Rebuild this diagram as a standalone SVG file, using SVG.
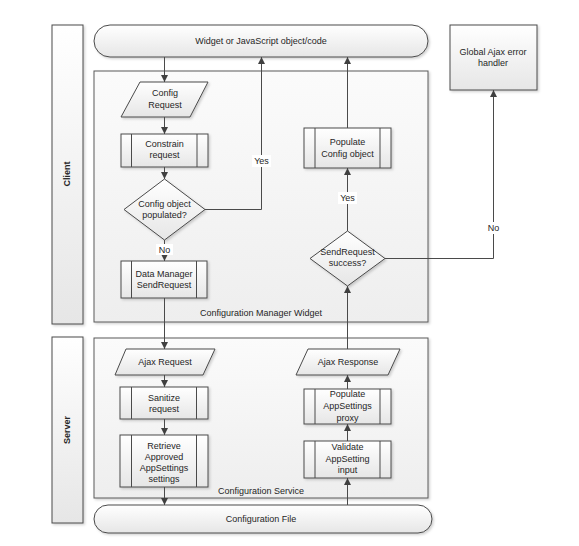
<svg xmlns="http://www.w3.org/2000/svg" width="579" height="546" viewBox="0 0 579 546">
<defs>
<linearGradient id="gs" x1="0" y1="0" x2="0" y2="1"><stop offset="0" stop-color="#ffffff"/><stop offset="1" stop-color="#e6e6e6"/></linearGradient>
<linearGradient id="gc" x1="0" y1="0" x2="0" y2="1"><stop offset="0" stop-color="#fbfbfb"/><stop offset="1" stop-color="#eeeeee"/></linearGradient>
<filter id="sh" x="-10%" y="-10%" width="130%" height="130%"><feDropShadow dx="1.5" dy="1.5" stdDeviation="0.8" flood-color="#000" flood-opacity="0.18"/></filter>
<marker id="ah" viewBox="0 0 10 10" refX="10" refY="5" markerWidth="7" markerHeight="7" markerUnits="userSpaceOnUse" orient="auto"><path d="M0,0 L10,5 L0,10 z" fill="#404040"/></marker>
</defs>
<style>
.s{fill:url(#gs);stroke:#4a4a4a;stroke-width:1;filter:url(#sh)}
.c{fill:url(#gc);stroke:#5a5a5a;stroke-width:1;filter:url(#sh)}
.in{stroke:#4a4a4a;stroke-width:1;fill:none}
.t{font-family:"Liberation Sans",Arial,sans-serif;font-size:9px;fill:#262626;text-anchor:middle}
.b{font-weight:bold}
.l{fill:none;stroke:#4a4a4a;stroke-width:1}
.a{marker-end:url(#ah)}
.lb{fill:#ffffff;stroke:none}
</style>
<rect width="579" height="546" fill="#ffffff"/>
<g id="lane-client"><rect class="s" x="52" y="25" width="31" height="299"/><text class="t b" transform="translate(70,174) rotate(-90)">Client</text></g>
<g id="lane-server"><rect class="s" x="52" y="337" width="31" height="186"/><text class="t b" transform="translate(70,430) rotate(-90)">Server</text></g>
<g id="container-client"><rect class="c" x="94" y="71" width="334" height="251"/><text class="t" x="261" y="316">Configuration Manager Widget</text></g>
<g id="container-server"><rect class="c" x="94" y="338" width="334" height="160"/><text class="t" x="261" y="494">Configuration Service</text></g>
<g id="widget"><rect class="s" x="94" y="25" width="334" height="32" rx="16" ry="16"/><text class="t" x="261" y="44">Widget or JavaScript object/code</text></g>
<g id="global-error"><rect class="s" x="450" y="25" width="87" height="65"/><text class="t" x="493" y="55">Global Ajax error</text><text class="t" x="493" y="66">handler</text></g>
<g id="config-request"><polygon class="s" points="140,82 208,82 190,117 121,117"/><text class="t" x="165" y="96">Config</text><text class="t" x="165" y="108">Request</text></g>
<g id="constrain"><rect class="s" x="121" y="134" width="87" height="33"/><line class="in" x1="131.5" y1="134" x2="131.5" y2="167"/><line class="in" x1="197" y1="134" x2="197" y2="167"/><text class="t" x="164.5" y="147">Constrain</text><text class="t" x="164.5" y="158">request</text></g>
<g id="config-populated"><polygon class="s" points="164.5,179 205,209.5 164.5,240 124,209.5"/><text class="t" x="164.5" y="207">Config object</text><text class="t" x="164.5" y="218">populated?</text></g>
<g id="data-manager"><rect class="s" x="121" y="261" width="86" height="37"/><line class="in" x1="131.5" y1="261" x2="131.5" y2="298"/><line class="in" x1="196.5" y1="261" x2="196.5" y2="298"/><text class="t" x="164" y="277">Data Manager</text><text class="t" x="164" y="288">SendRequest</text></g>
<g id="populate-config"><rect class="s" x="304" y="128" width="87" height="40"/><line class="in" x1="315" y1="128" x2="315" y2="168"/><line class="in" x1="380" y1="128" x2="380" y2="168"/><text class="t" x="347.5" y="145">Populate</text><text class="t" x="347.5" y="157">Config object</text></g>
<g id="sendrequest-success"><polygon class="s" points="347.5,231 385,258.5 347.5,286 310,258.5"/><text class="t" x="347.5" y="255">SendRequest</text><text class="t" x="347.5" y="266">success?</text></g>
<g id="ajax-request"><polygon class="s" points="126,349 215,349 203,375 115,375"/><text class="t" x="165" y="365">Ajax Request</text></g>
<g id="sanitize"><rect class="s" x="120" y="387" width="88" height="32"/><line class="in" x1="131.5" y1="387" x2="131.5" y2="419"/><line class="in" x1="196.5" y1="387" x2="196.5" y2="419"/><text class="t" x="164" y="401">Sanitize</text><text class="t" x="164" y="412">request</text></g>
<g id="retrieve"><rect class="s" x="120" y="435" width="88" height="52"/><line class="in" x1="131.5" y1="435" x2="131.5" y2="487"/><line class="in" x1="196.5" y1="435" x2="196.5" y2="487"/><text class="t" x="164" y="449">Retrieve</text><text class="t" x="164" y="460">Approved</text><text class="t" x="164" y="471">AppSettings</text><text class="t" x="164" y="482">settings</text></g>
<g id="ajax-response"><polygon class="s" points="308,349 400,349 388,375 296,375"/><text class="t" x="348" y="365">Ajax Response</text></g>
<g id="populate-appsettings"><rect class="s" x="304" y="389" width="87" height="35"/><line class="in" x1="315" y1="389" x2="315" y2="424"/><line class="in" x1="380" y1="389" x2="380" y2="424"/><text class="t" x="347.5" y="397">Populate</text><text class="t" x="347.5" y="409">AppSettings</text><text class="t" x="347.5" y="421">proxy</text></g>
<g id="validate"><rect class="s" x="304" y="441" width="87" height="37"/><line class="in" x1="315" y1="441" x2="315" y2="478"/><line class="in" x1="380" y1="441" x2="380" y2="478"/><text class="t" x="347.5" y="450">Validate</text><text class="t" x="347.5" y="462">AppSetting</text><text class="t" x="347.5" y="473">input</text></g>
<g id="config-file"><rect class="s" x="94" y="505" width="338" height="28" rx="14" ry="14"/><text class="t" x="261" y="522">Configuration File</text></g>
<g id="connectors">
<line class="l a" x1="164.5" y1="57" x2="164.5" y2="82"/>
<line class="l a" x1="164.5" y1="117" x2="164.5" y2="134"/>
<line class="l a" x1="164.5" y1="167" x2="164.5" y2="179"/>
<polyline class="l a" points="205,209.5 261.5,209.5 261.5,57"/>
<rect class="lb" x="252" y="155" width="19" height="12"/><text class="t" x="261.5" y="164">Yes</text>
<line class="l a" x1="164.5" y1="240" x2="164.5" y2="261"/>
<rect class="lb" x="156" y="244" width="17" height="11"/><text class="t" x="164.5" y="253">No</text>
<line class="l a" x1="164.5" y1="298" x2="164.5" y2="349"/>
<line class="l a" x1="164.5" y1="375" x2="164.5" y2="387"/>
<line class="l a" x1="164.5" y1="419" x2="164.5" y2="435"/>
<line class="l a" x1="164.5" y1="487" x2="164.5" y2="505"/>
<line class="l a" x1="347.5" y1="505" x2="347.5" y2="478"/>
<line class="l a" x1="347.5" y1="441" x2="347.5" y2="424"/>
<line class="l a" x1="347.5" y1="389" x2="347.5" y2="375"/>
<line class="l a" x1="347.5" y1="349" x2="347.5" y2="286"/>
<line class="l a" x1="347.5" y1="231" x2="347.5" y2="168"/>
<rect class="lb" x="338" y="192" width="19" height="12"/><text class="t" x="347.5" y="201">Yes</text>
<line class="l a" x1="347.5" y1="128" x2="347.5" y2="57"/>
<polyline class="l a" points="385,258.5 493.5,258.5 493.5,90"/>
<rect class="lb" x="485" y="222" width="17" height="12"/><text class="t" x="493.5" y="231">No</text>
</g>
</svg>
